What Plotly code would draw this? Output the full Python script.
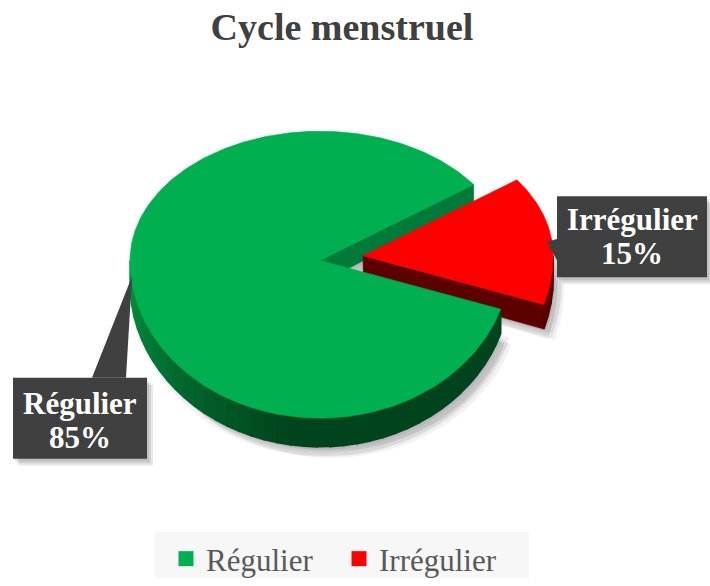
import numpy as np
import plotly.graph_objects as go

# ---------------- data ----------------
categories = ["Régulier", "Irrégulier"]
values = [85, 15]
title_text = "Cycle menstruel"

# ---------------- style ----------------
top_colors = ["#00B050", "#FF0000"]
radial_wall_colors = ["#007A38", "#5C0000"]
wall_light = ["#009442", "#5E0000"]
wall_dark = ["#00441D", "#560000"]
explode = [0.0, 0.23]
FONT = "Liberation Serif, Times New Roman, serif"

CX, CY = 320, 264          # pie centre (px)
RX, RY_BACK, RY_FRONT = 190, 131, 160
START = 342                # first slice starts here (deg, ccw from 3 o'clock), slices go clockwise
DEPTH0, DEPTH_K = 23, 6


def ry(s):
    return RY_BACK if s >= 0 else RY_FRONT


def proj(theta, r=1.0, down=False, off=(0.0, 0.0)):
    t = np.radians(theta)
    s = np.sin(t)
    x = CX + r * RX * np.cos(t) + off[0]
    y = CY - r * ry(s) * s + off[1]
    if down:
        y += DEPTH0 - DEPTH_K * r * s
    return x, y


def hex2rgb(h):
    h = h.lstrip("#")
    return np.array([int(h[i:i + 2], 16) for i in (0, 2, 4)], dtype=float)


def lerp_col(a, b, f):
    c = hex2rgb(a) * (1 - f) + hex2rgb(b) * f
    return "rgb(%d,%d,%d)" % tuple(int(round(v)) for v in c)


total = float(sum(values))
slices = []
cum = 0.0
for i, v in enumerate(values):
    t_hi = START - cum / total * 360.0
    cum += v
    t_lo = START - cum / total * 360.0
    mid = (t_hi + t_lo) / 2.0
    s = np.sin(np.radians(mid))
    off = (explode[i] * RX * np.cos(np.radians(mid)), -explode[i] * ry(s) * s)
    slices.append(dict(i=i, lo=t_lo, hi=t_hi, off=off))

fig = go.Figure()


def add_poly(xs, ys, color, opacity=1.0, lw=0.6):
    fig.add_trace(go.Scatter(
        x=list(xs) + [xs[0]], y=list(ys) + [ys[0]], mode="lines", fill="toself",
        fillcolor=color, line=dict(width=lw, color=color), opacity=opacity,
        hoverinfo="skip", showlegend=False))


# ---- soft shadow under the pie ----
for sl in slices:
    th = np.linspace(sl["lo"], sl["hi"], 80)
    pts = [proj(0, 0, True, sl["off"])] + [proj(t, 1, True, sl["off"]) for t in th]
    bx = np.array([p[0] for p in pts]); by = np.array([p[1] for p in pts])
    for dx, dy in [(2, 3), (5, 6), (8, 9), (4, 10), (9, 4), (11, 11)]:
        add_poly(bx + dx, by + dy, "rgba(0,0,0,1)", 0.05, 0)

# ---- radial (cut) walls ----
for sl in slices:
    i = sl["i"]
    for edge, visible in [(sl["lo"], np.cos(np.radians(sl["lo"])) > 0),
                          (sl["hi"], np.cos(np.radians(sl["hi"])) < 0)]:
        if not visible:
            continue
        p = [proj(edge, 0, False, sl["off"]), proj(edge, 1, False, sl["off"]),
             proj(edge, 1, True, sl["off"]), proj(edge, 0, True, sl["off"])]
        add_poly([q[0] for q in p], [q[1] for q in p], radial_wall_colors[i])

# ---- outer walls (front half only) ----
for sl in slices:
    i = sl["i"]
    for k in (-1, 0, 1):
        a = max(sl["lo"], 180 + 360 * k)
        b = min(sl["hi"], 360 + 360 * k)
        if b <= a:
            continue
        nseg = max(1, int((b - a) / 4))
        edges = np.linspace(a, b, nseg + 1)
        for j in range(nseg):
            t0, t1 = edges[j], edges[j + 1]
            tt = np.linspace(t0, t1, 6)
            top = [proj(t, 1, False, sl["off"]) for t in tt]
            bot = [proj(t, 1, True, sl["off"]) for t in tt[::-1]]
            pts = top + bot
            m = ((t0 + t1) / 2 - 360 * k)  # angle in [180,360]
            f = min(1.0, max(0.0, (m - 180) / 80.0))
            add_poly([q[0] for q in pts], [q[1] for q in pts],
                     lerp_col(wall_light[i], wall_dark[i], f), 1.0, 1.6)

# ---- top faces ----
for sl in slices:
    i = sl["i"]
    th = np.linspace(sl["lo"], sl["hi"], max(3, int(sl["hi"] - sl["lo"]) + 1))
    pts = [proj(0, 0, False, sl["off"])] + [proj(t, 1, False, sl["off"]) for t in th]
    add_poly([q[0] for q in pts], [q[1] for q in pts], top_colors[i])

# ---- legend entries ----
for i, c in enumerate(categories):
    fig.add_trace(go.Scatter(x=[None], y=[None], mode="markers", name=c,
                             marker=dict(symbol="square", size=15, color=top_colors[i])))

# ---- data labels (callouts) ----
pct = [round(v / total * 100) for v in values]
boxes = [
    dict(x0=13, y0=383, x1=147, y1=465, leader="M 92 383 L 132 280 L 126 383 Z",
         ty=(409, 444)),
    dict(x0=557, y0=199, x1=707, y1=281, leader="M 558 242 L 547 245 L 558 266 Z",
         ty=(223, 257)),
]
shapes = [dict(type="rect", xref="x", yref="y", x0=155, y0=539, x1=529, y1=590,
               fillcolor="#F7F7F7", line=dict(width=0), layer="below")]
annotations = []
for i, bx in enumerate(boxes):
    for k, (dx, dy) in enumerate([(2, 3), (4, 5), (6, 7)]):
        shapes.append(dict(type="rect", xref="x", yref="y", x0=bx["x0"] + dx, y0=bx["y0"] + dy,
                           x1=bx["x1"] + dx, y1=bx["y1"] + dy, line=dict(width=0),
                           fillcolor="rgba(0,0,0,0.09)", layer="above"))
    shapes.append(dict(type="path", xref="x", yref="y", path=bx["leader"],
                       fillcolor="#404040", line=dict(width=0), layer="above"))
    shapes.append(dict(type="rect", xref="x", yref="y", x0=bx["x0"], y0=bx["y0"],
                       x1=bx["x1"], y1=bx["y1"], line=dict(width=0),
                       fillcolor="#404040", layer="above"))
    xc = (bx["x0"] + bx["x1"]) / 2
    for txt, yy in [(categories[i], bx["ty"][0]), ("%d%%" % pct[i], bx["ty"][1])]:
        annotations.append(dict(x=xc, y=yy, xref="x", yref="y", text="<b>%s</b>" % txt,
                                showarrow=False, xanchor="center", yanchor="middle",
                                font=dict(family=FONT, size=31, color="white")))

fig.update_layout(
    width=710, height=586,
    margin=dict(l=0, r=0, t=0, b=0),
    paper_bgcolor="white", plot_bgcolor="white",
    xaxis=dict(range=[0, 710], visible=False, fixedrange=True),
    yaxis=dict(range=[586, 0], visible=False, fixedrange=True),
    title=dict(text="<b>%s</b>" % title_text, x=342 / 710, xanchor="center",
               y=1 - 27 / 586, yanchor="middle", yref="paper",
               font=dict(family=FONT, size=38, color="#404040")),
    legend=dict(orientation="h", x=166 / 710, xanchor="left", y=1 - 567 / 586,
                yanchor="middle",
                bgcolor="rgba(0,0,0,0)", font=dict(family=FONT, size=31, color="#595959"),
                itemsizing="trace", entrywidth=128),
    shapes=shapes,
    annotations=annotations,
    showlegend=True,
)

fig.write_html("out.html", config={"displayModeBar": False},
               post_script="document.body.style.margin='0';")
